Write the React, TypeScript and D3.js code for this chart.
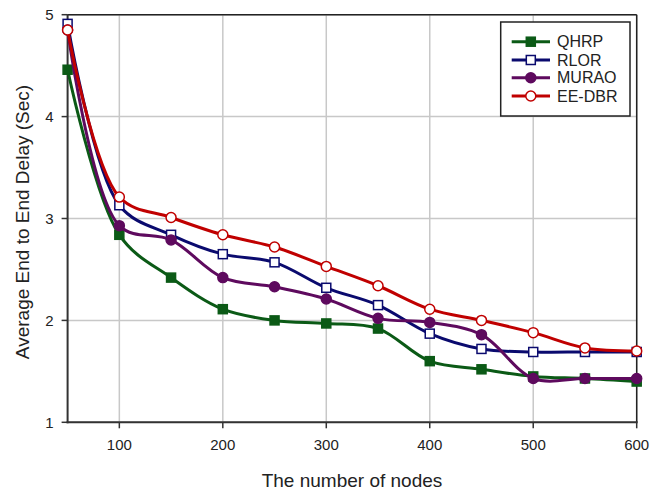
import React from "react";
import * as d3 from "d3";

const nodes = [50, 100, 150, 200, 250, 300, 350, 400, 450, 500, 550, 600];
const qhrp = [4.46, 2.84, 2.42, 2.11, 2.0, 1.97, 1.92, 1.6, 1.52, 1.45, 1.43, 1.4];
const rlor = [4.91, 3.13, 2.84, 2.65, 2.57, 2.32, 2.15, 1.87, 1.72, 1.69, 1.69, 1.69];
const murao = [4.85, 2.93, 2.79, 2.42, 2.33, 2.21, 2.02, 1.98, 1.86, 1.43, 1.43, 1.43];
const eedbr = [4.85, 3.21, 3.01, 2.84, 2.72, 2.53, 2.34, 2.11, 2.0, 1.88, 1.73, 1.7];
const xTicks = [100, 200, 300, 400, 500, 600];
const yTicks = [1, 2, 3, 4, 5];

const series = [
  { name: "QHRP", values: qhrp, color: "#0b5a16", marker: "square", fill: true },
  { name: "RLOR", values: rlor, color: "#0a0a6e", marker: "square", fill: false },
  { name: "MURAO", values: murao, color: "#5e0a5e", marker: "circle", fill: true },
  { name: "EE-DBR", values: eedbr, color: "#c00000", marker: "circle", fill: false },
];

const W = 650, H = 492;
const left = 67.6, right = 636.7, top = 14.7, bottom = 422.3;

function Marker({ x, y, s }: { x: number; y: number; s: any }) {
  const fill = s.fill ? s.color : "#fff";
  if (s.marker === "square") {
    return <rect x={x - 4.5} y={y - 4.5} width={9} height={9} fill={fill} stroke={s.color} strokeWidth={1.5} />;
  }
  return <circle cx={x} cy={y} r={5} fill={fill} stroke={s.color} strokeWidth={1.5} />;
}

export default function App() {
  const x = d3.scaleLinear().domain([50, 600]).range([left, right]);
  const y = d3.scaleLinear().domain([1, 5]).range([bottom, top]);
  const line = d3
    .line<number>()
    .x((_, i) => x(nodes[i]))
    .y((d) => y(d))
    .curve(d3.curveCatmullRom.alpha(0.5));
  const font = "Arial, 'Liberation Sans', sans-serif";
  const legX = 500.7, legY = 22, legW = 129.3, legH = 94;
  const rowY = [41.7, 60, 77.7, 96];
  return (
    <svg width={W} height={H} style={{ position: "absolute", left: 0, top: 0, background: "#fff" }} fontFamily={font}>
      <rect width={W} height={H} fill="#fff" />
      {xTicks.map((t) => (
        <line key={"gx" + t} x1={x(t)} x2={x(t)} y1={top} y2={bottom} stroke="#c8c8c8" strokeWidth={1.5} />
      ))}
      {yTicks.map((t) => (
        <line key={"gy" + t} x1={left} x2={right} y1={y(t)} y2={y(t)} stroke="#c8c8c8" strokeWidth={1.5} />
      ))}
      <line x1={left} x2={right} y1={top} y2={top} stroke="#222" strokeWidth={1.5} />
      <line x1={right} x2={right} y1={top} y2={bottom} stroke="#222" strokeWidth={1.5} />
      <line x1={left} x2={left} y1={top - 0.5} y2={bottom + 1} stroke="#333" strokeWidth={2} />
      <line x1={left - 1} x2={right + 1} y1={bottom} y2={bottom} stroke="#333" strokeWidth={2} />
      {yTicks.map((t) => (
        <g key={"ty" + t}>
          <line x1={left - 6} x2={left} y1={y(t)} y2={y(t)} stroke="#333" strokeWidth={1.5} />
          <text x={left - 14} y={y(t)} dy="0.35em" textAnchor="end" fontSize={15} fill="#222">
            {t}
          </text>
        </g>
      ))}
      {xTicks.map((t) => (
        <g key={"tx" + t}>
          <line x1={x(t)} x2={x(t)} y1={bottom} y2={bottom + 6} stroke="#333" strokeWidth={1.5} />
          <text x={x(t)} y={445} dy="0.35em" textAnchor="middle" fontSize={15} fill="#222">
            {t}
          </text>
        </g>
      ))}
      <text x={352} y={480} dy="0.35em" textAnchor="middle" fontSize={19} fill="#222">
        The number of nodes
      </text>
      <text
        transform={`translate(22,222) rotate(-90)`}
        dy="0.35em"
        textAnchor="middle"
        fontSize={19}
        fill="#222"
      >
        Average End to End Delay (Sec)
      </text>
      {series.map((s) => (
        <g key={s.name}>
          <path d={line(s.values) || ""} fill="none" stroke={s.color} strokeWidth={3} />
          {s.values.map((v, i) => (
            <Marker key={i} x={x(nodes[i])} y={y(v)} s={s} />
          ))}
        </g>
      ))}
      <rect x={legX} y={legY} width={legW} height={legH} fill="#fff" stroke="#222" strokeWidth={1.5} />
      {series.map((s, i) => (
        <g key={"l" + s.name}>
          <line x1={511.7} x2={550} y1={rowY[i]} y2={rowY[i]} stroke={s.color} strokeWidth={3} />
          <Marker x={530.8} y={rowY[i]} s={s} />
          <text x={557} y={rowY[i]} dy="0.35em" fontSize={16} fill="#222">
            {s.name}
          </text>
        </g>
      ))}
    </svg>
  );
}
